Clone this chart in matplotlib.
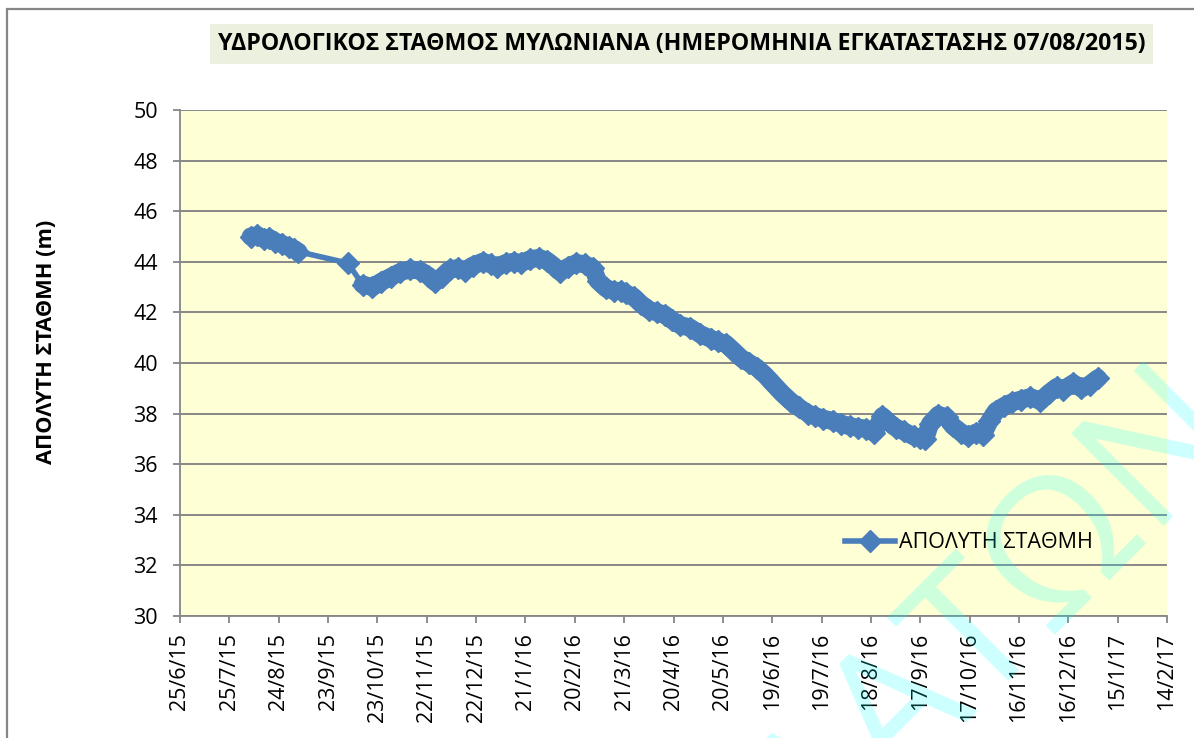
import matplotlib
matplotlib.use("Agg")
import matplotlib.pyplot as plt
from matplotlib.patches import Rectangle
import pandas as pd

plt.rcParams['font.family'] = ['Open Sans', 'DejaVu Sans']

# data
dates = [
    "2015-08-07", "2015-08-11", "2015-08-15", "2015-08-18", "2015-08-22", "2015-08-26",
    "2015-08-30", "2015-09-02", "2015-09-05", "2015-10-05", "2015-10-14", "2015-10-20",
    "2015-10-25", "2015-10-31", "2015-11-06", "2015-11-12", "2015-11-18", "2015-11-23",
    "2015-11-27", "2015-12-01", "2015-12-06", "2015-12-11", "2015-12-15", "2015-12-20",
    "2015-12-26", "2015-12-31", "2016-01-04", "2016-01-09", "2016-01-14", "2016-01-18",
    "2016-01-24", "2016-01-29", "2016-02-03", "2016-02-07", "2016-02-11", "2016-02-16",
    "2016-02-21", "2016-02-26", "2016-03-02", "2016-03-05", "2016-03-10", "2016-03-15",
    "2016-03-19", "2016-03-22", "2016-03-27", "2016-03-31", "2016-04-05", "2016-04-10",
    "2016-04-15", "2016-04-19", "2016-04-24", "2016-04-30", "2016-05-06", "2016-05-13",
    "2016-05-17", "2016-05-22", "2016-05-27", "2016-05-31", "2016-06-05", "2016-06-10",
    "2016-06-15", "2016-06-20", "2016-06-25", "2016-06-30", "2016-07-05", "2016-07-11",
    "2016-07-15", "2016-07-20", "2016-07-26", "2016-07-31", "2016-08-05", "2016-08-10",
    "2016-08-15", "2016-08-20", "2016-08-25", "2016-08-29", "2016-09-02", "2016-09-07",
    "2016-09-13", "2016-09-17", "2016-09-20", "2016-09-23", "2016-09-28", "2016-10-03",
    "2016-10-07", "2016-10-12", "2016-10-16", "2016-10-21", "2016-10-25", "2016-10-29",
    "2016-11-02", "2016-11-07", "2016-11-12", "2016-11-17", "2016-11-23", "2016-11-29",
    "2016-12-04", "2016-12-09", "2016-12-13", "2016-12-19", "2016-12-24", "2016-12-29",
    "2017-01-03",
]
levels = [
    45.0, 45.05, 44.9, 44.95, 44.8, 44.7,
    44.6, 44.5, 44.4, 43.95, 43.1, 43.0,
    43.2, 43.4, 43.6, 43.7, 43.65, 43.45,
    43.2, 43.4, 43.7, 43.75, 43.65, 43.85,
    44.0, 43.9, 43.8, 43.95, 44.0, 43.95,
    44.1, 44.15, 44.05, 43.85, 43.6, 43.8,
    43.95, 43.9, 43.75, 43.25, 42.95, 42.85,
    42.85, 42.75, 42.6, 42.35, 42.1, 42.0,
    41.9, 41.7, 41.5, 41.4, 41.15, 40.95,
    40.85, 40.75, 40.45, 40.2, 40.0, 39.8,
    39.5, 39.15, 38.8, 38.5, 38.25, 38.0,
    37.9, 37.8, 37.7, 37.6, 37.5, 37.45,
    37.4, 37.25, 37.9, 37.65, 37.45, 37.3,
    37.1, 37.05, 37.0, 37.6, 37.95, 37.85,
    37.5, 37.25, 37.1, 37.25, 37.15, 37.7,
    38.1, 38.3, 38.45, 38.55, 38.65, 38.5,
    38.8, 39.05, 38.95, 39.2, 39.0, 39.15,
    39.4,
]
# the two densely sampled stretches (before / after the September 2015 gap)
dense_parts = [(0, 9), (10, len(dates))]

x_ticks = pd.date_range("2015-06-25", "2017-02-14", freq="30D")
y_ticks = list(range(30, 51, 2))

title = "ΥΔΡΟΛΟΓΙΚΟΣ ΣΤΑΘΜΟΣ ΜΥΛΩΝΙΑΝΑ (ΗΜΕΡΟΜΗΝΙΑ ΕΓΚΑΤΑΣΤΑΣΗΣ 07/08/2015)"
ylabel = "ΑΠΟΛΥΤΗ ΣΤΑΘΜΗ (m)"
series_name = "ΑΠΟΛΥΤΗ ΣΤΑΘΜΗ"

W, H = 1194, 738
blue = "#4a7ebb"
fig = plt.figure(figsize=(W / 100, H / 100), dpi=100)
fig.patch.set_facecolor("white")

# chart border (only top and left visible in the reference)
fig.patches.append(Rectangle((7 / W, -0.1), 1.2, 1 - 9 / H + 0.1, transform=fig.transFigure,
                             fill=False, edgecolor="#868686", lw=1.6, zorder=0))

ax = fig.add_axes([180 / W, 1 - 616 / H, 987 / W, 506 / H])
ax.set_facecolor("#ffffd5")

x = pd.to_datetime(dates)
line, = ax.plot(x, levels, color=blue, lw=4, marker="D", markersize=11,
                markeredgecolor=blue, label=series_name, zorder=3)
# overlapping daily markers make a solid band in the original
for a, b in dense_parts:
    ax.plot(x[a:b], levels[a:b], color=blue, lw=13, solid_joinstyle="round",
            solid_capstyle="round", zorder=3)

ax.set_xlim(x_ticks[0], x_ticks[-1])
ax.set_ylim(30, 50)
ax.set_yticks(y_ticks)
ax.set_xticks(x_ticks)
ax.set_xticklabels([f"{d.day}/{d.month}/{d.year % 100}" for d in x_ticks], rotation=90)

ax.yaxis.grid(True, color="#878787", lw=1.4)
ax.xaxis.grid(False)
ax.set_axisbelow(True)
for s in ["top", "right"]:
    ax.spines[s].set_visible(False)
for s in ["left", "bottom"]:
    ax.spines[s].set_color("#868686")
    ax.spines[s].set_linewidth(1.3)
ax.tick_params(axis="y", direction="out", length=5, width=1.3, color="#868686",
               labelsize=15.5, pad=11)
ax.tick_params(axis="x", direction="out", length=5, width=1.3, color="#868686",
               labelsize=15.5, pad=7)

leg = ax.legend(handles=[line], loc="center left", bbox_to_anchor=(845 / W, 1 - 543 / H),
                bbox_transform=fig.transFigure, frameon=False, fontsize=15.5,
                handlelength=2.3, handletextpad=0.2, borderpad=0, borderaxespad=0)

# title box
fig.patches.append(Rectangle((210 / W, 1 - 64 / H), 943 / W, 40 / H, transform=fig.transFigure,
                             facecolor="#ebf1de", edgecolor="none", zorder=1))
t_title = fig.text(682 / W, 1 - 44 / H, title, ha="center", va="center",
                   fontsize=18, fontweight="bold", zorder=2)
t_ylab = fig.text(47 / W, 1 - 342 / H, ylabel, ha="center", va="center", rotation=90,
                  fontsize=14, fontweight="bold")

fig.canvas.draw()
r = fig.canvas.get_renderer()
w = t_title.get_window_extent(r).width
t_title.set_fontsize(t_title.get_fontsize() * 930 / w)
h = t_ylab.get_window_extent(r).height
t_ylab.set_fontsize(t_ylab.get_fontsize() * 245 / h)

# faint watermark over the right side
fig.text(1250 / W, 1 - 440 / H, "ΥΔΑΤΩΝ", rotation=45, rotation_mode="anchor",
         ha="right", va="baseline", fontsize=132, color="cyan", alpha=0.2, zorder=5)

fig.savefig("out.png", dpi=100)
